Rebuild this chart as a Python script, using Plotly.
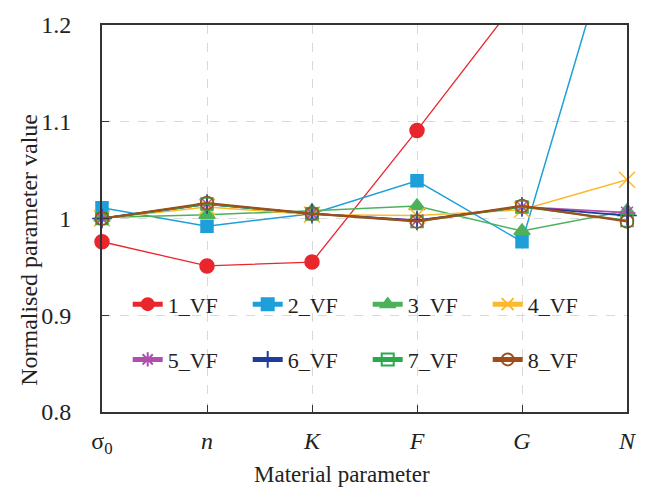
import plotly.graph_objects as go

categories = ["σ<sub>0</sub>", "<i>n</i>", "<i>K</i>", "<i>F</i>", "<i>G</i>", "<i>N</i>"]
series_names = ["1_VF", "2_VF", "3_VF", "4_VF", "5_VF", "6_VF", "7_VF", "8_VF"]
vf1 = [0.976, 0.951, 0.955, 1.091, 1.232, 1.300]
vf2 = [1.011, 0.992, 1.005, 1.039, 0.976, 1.343]
vf3 = [1.001, 1.004, 1.008, 1.013, 0.987, 1.008]
vf4 = [1.000, 1.012, 1.004, 1.003, 1.009, 1.040]
vf5 = [1.000, 1.015, 1.005, 0.998, 1.012, 1.006]
vf6 = [1.000, 1.015, 1.005, 0.998, 1.012, 1.003]
vf7 = [1.000, 1.015, 1.005, 0.997, 1.012, 0.998]
vf8 = [1.000, 1.016, 1.005, 0.997, 1.013, 0.997]
values = [vf1, vf2, vf3, vf4, vf5, vf6, vf7, vf8]
y_ticks = [0.8, 0.9, 1.0, 1.1, 1.2]

colors = ["#E8262C", "#1E9FD9", "#4CB25A", "#FBB92C", "#B04FB0", "#1E3C98", "#2AAA4C", "#9E4E1B"]
symbols = ["circle", "square", "triangle-up", "x-thin-open", "asterisk-open",
           "cross-thin-open", "square-open", "circle-open"]
sizes = [14, 12, 14, 16, 14, 14, 12, 13]
line_widths = [1.3, 1.5, 1.5, 1.5, 1.8, 1.8, 1.8, 2.2]

FONT = "Liberation Serif, Times New Roman, serif"
xs = list(range(len(categories)))

fig = go.Figure()
for i, (name, vals) in enumerate(zip(series_names, values)):
    fig.add_trace(go.Scatter(
        x=xs, y=vals, name=name, mode="lines+markers",
        line=dict(color=colors[i], width=line_widths[i]),
        marker=dict(symbol=symbols[i], size=sizes[i], color=colors[i],
                    line=dict(color=colors[i], width=1.5)),
        cliponaxis=False,
        legend="legend" if i < 4 else "legend2",
    ))

W, H = 649, 490
ml, mr, mt, mb = 102, 16, 13, 78
pw, ph = W - ml - mr, H - mt - mb

def px2paper_x(px):
    return (px - ml) / pw

def px2paper_y(py):
    return (H - mb - py) / ph

legend_common = dict(
    orientation="h", xanchor="left", yanchor="middle",
    bgcolor="rgba(0,0,0,0)", entrywidth=75, entrywidthmode="pixels",
    font=dict(family=FONT, size=22, color="#222"), itemsizing="constant",
)

fig.update_layout(
    width=W, height=H,
    margin=dict(l=ml, r=mr, t=mt, b=mb),
    paper_bgcolor="white", plot_bgcolor="white",
    font=dict(family=FONT, size=23, color="#222"),
    showlegend=True,
    legend=dict(x=px2paper_x(128), y=px2paper_y(301), **legend_common),
    legend2=dict(x=px2paper_x(128), y=px2paper_y(358), **legend_common),
    xaxis=dict(
        range=[0, len(categories) - 1], tickmode="array", tickvals=xs, ticktext=categories,
        showline=True, linecolor="#333", linewidth=2, mirror=True,
        ticks="inside", ticklen=7, tickcolor="#333", tickwidth=1,
        showgrid=True, gridcolor="#d9d9d9", gridwidth=1, griddash="dash",
        zeroline=False, ticklabelstandoff=6,
        tickfont=dict(family=FONT, size=24, color="#222"),
    ),
    yaxis=dict(
        range=[0.8, 1.2], tickmode="array", tickvals=y_ticks,
        ticktext=[("%g" % v) for v in y_ticks],
        showline=True, linecolor="#333", linewidth=2, mirror=True,
        ticks="inside", ticklen=7, tickcolor="#333", tickwidth=1,
        showgrid=True, gridcolor="#d9d9d9", gridwidth=1, griddash="dash",
        zeroline=False, ticklabelstandoff=24,
        tickfont=dict(family=FONT, size=24, color="#222"),
    ),
    annotations=[
        dict(text="Material parameter", xref="paper", yref="paper",
             x=px2paper_x(345), y=px2paper_y(476), xanchor="center", yanchor="middle",
             showarrow=False, font=dict(family=FONT, size=23, color="#222")),
        dict(text="Normalised parameter value", xref="paper", yref="paper",
             x=px2paper_x(28), y=px2paper_y(245), xanchor="center", yanchor="middle",
             textangle=-90, showarrow=False, font=dict(family=FONT, size=24, color="#222")),
    ],
)

fig.write_html("out.html")
